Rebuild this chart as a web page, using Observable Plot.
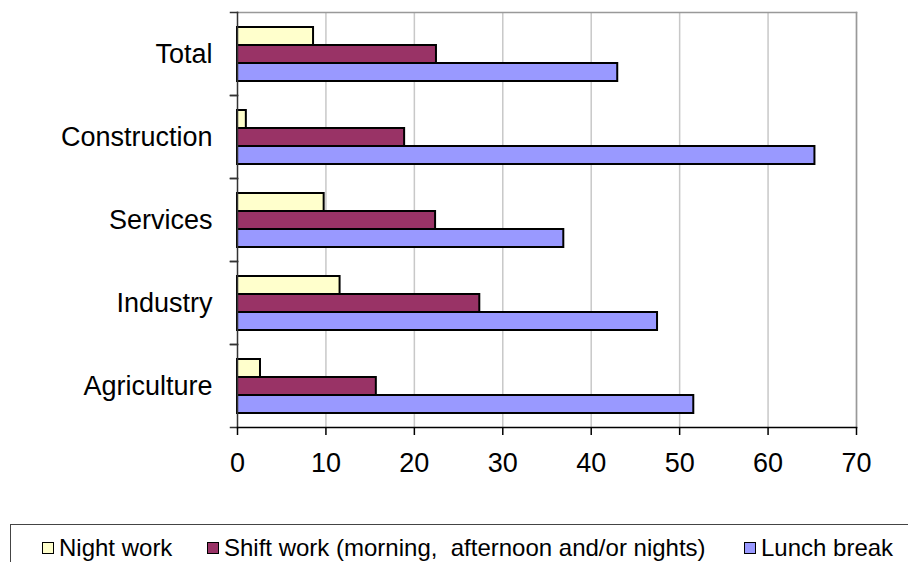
<!DOCTYPE html>
<html><head><meta charset="utf-8">
<script src="https://cdn.jsdelivr.net/npm/d3@7"></script>
<script src="https://cdn.jsdelivr.net/npm/@observablehq/plot@0.6"></script>
<style>
body{margin:0;background:#fff;font-family:"Liberation Sans",Arial,sans-serif;color:#000;}
#chart{position:absolute;left:0;top:0;}
#legend{position:absolute;left:10px;top:524px;width:930px;height:60px;border:1px solid #444;box-sizing:border-box;font-size:24px;}
.item{position:absolute;top:9px;display:flex;align-items:center;white-space:pre;line-height:28px;}
.sw{width:10px;height:10px;border:1.5px solid #000;margin-right:5px;}
</style></head><body>
<div id="chart"></div>
<div id="legend"></div>
<script>
const categories = ["Total", "Construction", "Services", "Industry", "Agriculture"];
const series = ["Night work", "Shift work (morning,  afternoon and/or nights)", "Lunch break"];
const nightWork = [8.6, 1.0, 9.8, 11.6, 2.6];
const shiftWork = [22.5, 18.9, 22.4, 27.4, 15.7];
const lunchBreak = [43.0, 65.3, 36.9, 47.5, 51.6];
const colors = ["#FFFFCC", "#993366", "#9999FF"];
const xTicks = [0, 10, 20, 30, 40, 50, 60, 70];

const seriesValues = [nightWork, shiftWork, lunchBreak];
const data = [];
categories.forEach((c, i) => series.forEach((s, j) => data.push({category: c, series: s, value: seriesValues[j][i]})));

const W = 908, ML = 237, MR = 52;
const chart = Plot.plot({
  width: W, height: 500,
  marginLeft: ML, marginRight: MR, marginTop: 10, marginBottom: 72,
  style: {fontFamily: '"Liberation Sans", Arial, sans-serif', color: "#000", background: "#fff"},
  x: {domain: [0, 70], label: null},
  y: {domain: series, paddingInner: 0, paddingOuter: 0.7, axis: null},
  fy: {domain: categories, padding: 0, label: null, axis: null},
  color: {domain: series, range: colors},
  marks: [
    Plot.ruleX(xTicks.slice(1), {stroke: "#c8c8c8", strokeWidth: 1.5}),
    Plot.frame({facet: "super", anchor: "top", stroke: "#999", strokeWidth: 1.5}),
    Plot.frame({facet: "super", anchor: "right", stroke: "#999", strokeWidth: 1.5}),
    Plot.barX(data, {x: "value", y: "series", fy: "category", fill: "series", stroke: "#000", strokeWidth: 2}),
    Plot.frame({facet: "super", anchor: "left", stroke: "#333", strokeWidth: 1.5}),
    Plot.frame({facet: "super", anchor: "bottom", stroke: "#000", strokeWidth: 1.5}),
    Plot.frame({anchor: "top", stroke: "#333", strokeWidth: 1.5, insetLeft: -7, insetRight: W - ML - MR}),
    Plot.frame({anchor: "bottom", stroke: "#333", strokeWidth: 1.5, insetLeft: -7, insetRight: W - ML - MR}),
    Plot.axisX(xTicks, {tickSize: 8, tickPadding: 17, fontSize: 27, stroke: "#000", strokeWidth: 1.5, label: null}),
    Plot.axisFy({anchor: "left", tickSize: 0, tickPadding: 25, fontSize: 27, label: null})
  ]
});
document.getElementById("chart").appendChild(chart);

const legend = document.getElementById("legend");
const lefts = [31, 196, 733];
series.forEach((s, j) => {
  const it = document.createElement("div");
  it.className = "item";
  it.style.left = lefts[j] + "px";
  const sw = document.createElement("div");
  sw.className = "sw";
  sw.style.background = colors[j];
  const t = document.createElement("span");
  t.textContent = s;
  it.appendChild(sw); it.appendChild(t);
  legend.appendChild(it);
});
</script>
</body></html>
